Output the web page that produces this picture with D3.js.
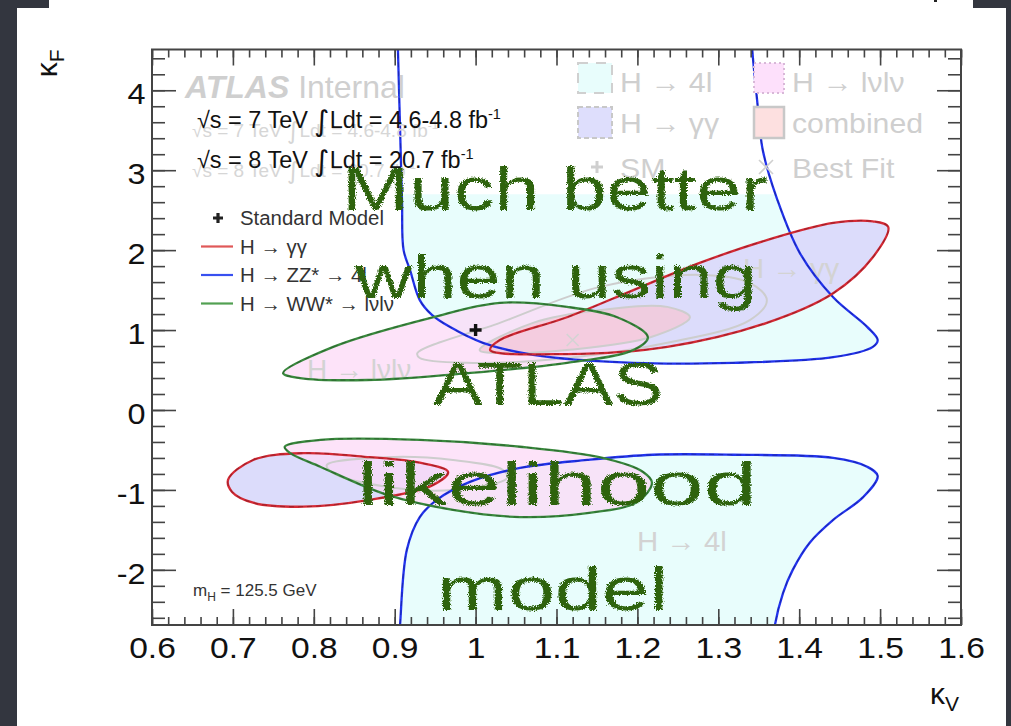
<!DOCTYPE html>
<html>
<head>
<meta charset="utf-8">
<script src="https://cdn.jsdelivr.net/npm/d3@7"></script>
<style>
  body { margin: 0; background: #33363f; }
  svg { display: block; }
  text { font-family: "Liberation Sans", Arial, Helvetica, sans-serif; }
</style>
</head>
<body>
<svg id="chart" width="1011" height="726"></svg>
<script>
// ---- values ----
var kvRange = [0.6, 1.6];
var kfRange = [-2.69, 4.51];
var kvTicks = [0.6, 0.7, 0.8, 0.9, 1.0, 1.1, 1.2, 1.3, 1.4, 1.5, 1.6];
var kvLabels = ["0.6", "0.7", "0.8", "0.9", "1", "1.1", "1.2", "1.3", "1.4", "1.5", "1.6"];
var kfTicks = [-2, -1, 0, 1, 2, 3, 4];
var kfLabels = ["-2", "-1", "0", "1", "2", "3", "4"];
var ghost4lTop = 2.7;
var smPoint = [1.0, 1.0];
var bestFit = [1.12, 0.875];

// H -> ZZ* -> 4l (blue), two open branches leaving the frame
var zzUpper = [[0.903, 4.8], [0.904, 4.51], [0.909, 2.63], [0.911, 2.0], [0.919, 1.75], [0.931, 1.375],
  [0.946, 1.19], [0.968, 1.04], [1.009, 0.84], [1.071, 0.69], [1.195, 0.59], [1.318, 0.59],
  [1.442, 0.66], [1.491, 0.79], [1.497, 0.875], [1.484, 1.04], [1.442, 1.41], [1.401, 1.96],
  [1.373, 2.63], [1.355, 3.25], [1.348, 3.875], [1.342, 4.51], [1.341, 4.8]];
var zzLower = [[0.905, -2.9], [0.9066, -2.69], [0.915, -1.75], [0.931, -1.34], [0.952, -1.125],
  [0.993, -0.9], [1.055, -0.725], [1.138, -0.625], [1.219, -0.56], [1.318, -0.56], [1.442, -0.6],
  [1.484, -0.71], [1.497, -0.825], [1.479, -1.09], [1.442, -1.375], [1.413, -1.66], [1.392, -2.0],
  [1.38, -2.29], [1.37, -2.69], [1.368, -2.9]];

// H -> gamma gamma (red)
var yyUpper = [[1.018, 0.75], [1.030, 0.875], [1.113, 1.16], [1.195, 1.5], [1.277, 1.84], [1.360, 2.125],
  [1.442, 2.34], [1.491, 2.36], [1.510, 2.29], [1.491, 1.91], [1.442, 1.46], [1.360, 1.09],
  [1.237, 0.79], [1.113, 0.70]];
var yyLower = [[0.694, -0.875], [0.725, -0.625], [0.787, -0.54], [0.869, -0.59], [0.931, -0.66],
  [0.966, -0.775], [0.947, -0.94], [0.869, -1.125], [0.787, -1.21], [0.725, -1.16], [0.699, -1.025]];

// H -> WW* -> lvlv (green)
var wwUpper = [[0.762, 0.46], [0.824, 0.79], [0.947, 1.16], [1.030, 1.34], [1.113, 1.29], [1.175, 1.16],
  [1.213, 0.91], [1.195, 0.75], [1.113, 0.59], [0.989, 0.46], [0.866, 0.375], [0.783, 0.40]];
var wwLower = [[0.764, -0.46], [0.808, -0.375], [0.931, -0.375], [1.055, -0.46], [1.157, -0.6],
  [1.207, -0.775], [1.218, -0.91], [1.200, -1.15], [1.138, -1.29], [1.055, -1.34], [0.972, -1.25],
  [0.890, -1.06], [0.808, -0.71], [0.771, -0.54]];

// combined (faded overlay)
var combOuterUp = [[0.928, 0.71], [1.030, 1.09], [1.154, 1.54], [1.277, 1.69], [1.339, 1.59], [1.360, 1.375],
  [1.339, 1.125], [1.237, 0.84], [1.113, 0.65], [0.989, 0.59], [0.931, 0.65]];
var combInnerUp = [[1.005, 0.75], [1.071, 1.09], [1.154, 1.25], [1.237, 1.29], [1.265, 1.16], [1.216, 0.91],
  [1.113, 0.75], [1.030, 0.71]];
var combOuterLo = [[0.816, -0.69], [0.890, -0.59], [0.972, -0.625], [1.034, -0.75], [1.039, -0.85],
  [0.972, -1.0], [0.890, -0.96], [0.824, -0.79]];

var legendLabels = ["Standard Model", "H \u2192 \u03b3\u03b3", "H \u2192 ZZ* \u2192 4l", "H \u2192 WW* \u2192 l\u03bdl\u03bd"];
var ghostLegend = ["H \u2192 4l", "H \u2192 l\u03bdl\u03bd", "H \u2192 \u03b3\u03b3", "combined", "SM", "Best Fit"];
var energies = ["7", "8"];
var lumis = ["4.6-4.8", "20.7"];
var massLabel = "125.5 GeV";
var noteLines = ["Much better", "when using", "ATLAS", "likelihood", "model"];

// ---- drawing ----
var svg = d3.select("#chart");
var W = 1011, H = 726;
var x = d3.scaleLinear().domain(kvRange).range([152, 961]);
var y = d3.scaleLinear().domain(kfRange).range([625, 49.5]);
var X0 = x.range()[0], X1 = x.range()[1], Y0 = y.range()[1], Y1 = y.range()[0];

var defs = svg.append("defs");
defs.append("clipPath").attr("id", "plotClip").append("rect")
  .attr("x", X0).attr("y", Y0).attr("width", X1 - X0).attr("height", Y1 - Y0);
defs.append("clipPath").attr("id", "ghostClip").append("rect")
  .attr("x", X0).attr("y", y(ghost4lTop)).attr("width", X1 - X0).attr("height", Y1 - y(ghost4lTop));
var rough = defs.append("filter").attr("id", "rough")
  .attr("x", "-5%").attr("y", "-20%").attr("width", "110%").attr("height", "140%");
rough.append("feTurbulence").attr("type", "fractalNoise").attr("baseFrequency", 0.9)
  .attr("numOctaves", 2).attr("seed", 3).attr("result", "noise");
rough.append("feDisplacementMap").attr("in", "SourceGraphic").attr("in2", "noise")
  .attr("scale", 5).attr("xChannelSelector", "R").attr("yChannelSelector", "G");

// slide: dark frame with the pasted white picture
svg.append("rect").attr("width", W).attr("height", H).attr("fill", "#33363f");
svg.append("rect").attr("x", 17).attr("y", 8).attr("width", 989).attr("height", H - 8).attr("fill", "#fff");
svg.append("rect").attr("x", 49).attr("y", 0).attr("width", 924).attr("height", 10).attr("fill", "#fff");
svg.append("rect").attr("x", 934).attr("y", 0).attr("width", 3).attr("height", 2).attr("fill", "#222");

var openLine = d3.line().x(function(d) { return x(d[0]); }).y(function(d) { return y(d[1]); })
  .curve(d3.curveCatmullRom.alpha(0.5));
var closedLine = d3.line().x(function(d) { return x(d[0]); }).y(function(d) { return y(d[1]); })
  .curve(d3.curveCatmullRomClosed.alpha(0.5));

var plot = svg.append("g").attr("clip-path", "url(#plotClip)");

// faded overlay fills
var ghost = plot.append("g").attr("clip-path", "url(#ghostClip)");
ghost.append("path").attr("d", openLine(zzUpper)).attr("fill", "#e8fdfc");
plot.append("path").attr("d", openLine(zzLower)).attr("fill", "#e8fdfc");
[yyUpper, yyLower].forEach(function(c) {
  plot.append("path").attr("d", closedLine(c)).attr("fill", "#dcdcfb");
});
[wwUpper, wwLower].forEach(function(c) {
  plot.append("path").attr("d", closedLine(c)).attr("fill", "#fcd8f6").attr("fill-opacity", 0.72);
});
plot.append("path").attr("d", closedLine(combInnerUp)).attr("fill", "#f4c8d8").attr("fill-opacity", 0.8);
[combOuterUp, combInnerUp, combOuterLo].forEach(function(c) {
  plot.append("path").attr("d", closedLine(c)).attr("fill", "none")
    .attr("stroke", "#cdcdcd").attr("stroke-width", 2);
});

// faded region labels
function rtext(parent, px, py, size, color, sx) {
  return parent.append("text")
    .attr("transform", "translate(" + px + "," + py + ") scale(" + (sx || 1) + ",1)")
    .attr("font-size", size).attr("fill", color);
}
rtext(plot, 743, 278, 28, "#d3d3d3", 1.05).text(ghostLegend[2]);
rtext(plot, 307, 379, 28, "#d3d3d3", 1.0).text(ghostLegend[1]);
rtext(plot, 637, 551, 28, "#d3d3d3", 1.05).text(ghostLegend[0]);

// best fit cross (faded) and SM point
function cross(parent, cx, cy, s, color, w) {
  parent.append("path").attr("d", "M" + (cx - s) + "," + (cy - s) + "L" + (cx + s) + "," + (cy + s) +
    "M" + (cx - s) + "," + (cy + s) + "L" + (cx + s) + "," + (cy - s))
    .attr("stroke", color).attr("stroke-width", w);
}
function plus(parent, cx, cy, s, color, w) {
  parent.append("path").attr("d", "M" + (cx - s) + "," + cy + "H" + (cx + s) + "M" + cx + "," + (cy - s) + "V" + (cy + s))
    .attr("stroke", color).attr("stroke-width", w);
}
cross(plot, x(bestFit[0]), y(bestFit[1]), 6, "#d3d3d3", 1.6);

// coloured contours
var lines = [
  { c: [zzUpper, zzLower], open: true, col: "#2233ee" },
  { c: [yyUpper, yyLower], open: false, col: "#d42a35" },
  { c: [wwUpper, wwLower], open: false, col: "#3a8a3e" }
];
lines.forEach(function(s) {
  s.c.forEach(function(c) {
    var d = s.open ? openLine(c) : closedLine(c);
    plot.append("path").attr("d", d).attr("fill", "none").attr("stroke", s.col).attr("stroke-width", 2.3);
    plot.append("path").attr("d", d).attr("fill", "none").attr("stroke", "rgba(0,0,0,0.22)")
      .attr("stroke-width", 1.2).attr("stroke-dasharray", "5,4");
  });
});
plus(plot, x(smPoint[0]), y(smPoint[1]), 6, "#111", 3.4);

// axes
var axCol = "#444";
function minors(dom, step) {
  var out = [];
  for (var v = Math.ceil(dom[0] / step) * step; v <= dom[1] + 1e-9; v += step) out.push(+v.toFixed(4));
  return out;
}
var kvMinor = minors(kvRange, 0.02);
var kfMinor = minors(kfRange, 0.2);

function styleAxis(g) {
  g.select(".domain").remove();
  g.selectAll("line").attr("stroke", axCol).attr("stroke-width", 1.6);
}
svg.append("g").attr("transform", "translate(0," + Y1 + ")")
  .call(d3.axisBottom(x).tickValues(kvMinor).tickFormat("").tickSizeInner(-8).tickSizeOuter(0)).call(styleAxis);
svg.append("g").attr("transform", "translate(0," + Y0 + ")")
  .call(d3.axisTop(x).tickValues(kvMinor).tickFormat("").tickSizeInner(-8).tickSizeOuter(0)).call(styleAxis);
svg.append("g").attr("transform", "translate(0," + Y0 + ")")
  .call(d3.axisTop(x).tickValues(kvTicks).tickFormat("").tickSizeInner(-16).tickSizeOuter(0)).call(styleAxis);
var xAx = svg.append("g").attr("transform", "translate(0," + Y1 + ")")
  .call(d3.axisBottom(x).tickValues(kvTicks).tickFormat(function(d, i) { return kvLabels[i]; })
    .tickSizeInner(-16).tickSizeOuter(0).tickPadding(12)).call(styleAxis);
xAx.selectAll("text").attr("font-size", 30).attr("fill", "#111")
  .attr("font-family", "Liberation Sans, Arial, sans-serif").attr("transform", "scale(1.12,1)");

svg.append("g").attr("transform", "translate(" + X0 + ",0)")
  .call(d3.axisLeft(y).tickValues(kfMinor).tickFormat("").tickSizeInner(-13).tickSizeOuter(0)).call(styleAxis);
svg.append("g").attr("transform", "translate(" + X1 + ",0)")
  .call(d3.axisRight(y).tickValues(kfMinor).tickFormat("").tickSizeInner(-13).tickSizeOuter(0)).call(styleAxis);
svg.append("g").attr("transform", "translate(" + X1 + ",0)")
  .call(d3.axisRight(y).tickValues(kfTicks).tickFormat("").tickSizeInner(-24).tickSizeOuter(0)).call(styleAxis);
var yAx = svg.append("g").attr("transform", "translate(" + X0 + ",0)")
  .call(d3.axisLeft(y).tickValues(kfTicks).tickFormat(function(d, i) { return kfLabels[i]; })
    .tickSizeInner(-24).tickSizeOuter(0).tickPadding(6)).call(styleAxis);
yAx.selectAll("text").attr("font-size", 30).attr("fill", "#111").attr("dy", "0.45em")
  .attr("font-family", "Liberation Sans, Arial, sans-serif").attr("transform", "scale(1.08,1)");

svg.append("rect").attr("x", X0).attr("y", Y0).attr("width", X1 - X0).attr("height", Y1 - Y0)
  .attr("fill", "none").attr("stroke", axCol).attr("stroke-width", 2);

// axis titles
var kf = svg.append("text").attr("transform", "translate(57," + Y0 + ") rotate(-90)")
  .attr("text-anchor", "end").attr("font-size", 30).attr("fill", "#111");
kf.append("tspan").text("\u03ba");
kf.append("tspan").attr("dy", 7).attr("font-size", 21).text("F");
var kv = svg.append("text").attr("transform", "translate(" + (X1 - 2) + ",704)")
  .attr("text-anchor", "end").attr("font-size", 30).attr("fill", "#111");
kv.append("tspan").text("\u03ba");
kv.append("tspan").attr("dy", 7).attr("font-size", 21).text("V");

// faded ATLAS labels
var atl = rtext(svg, 185, 98, 32, "#cfcfcf", 1.0);
atl.append("tspan").attr("font-weight", "bold").attr("font-style", "italic").text("ATLAS");
atl.append("tspan").text(" Internal");
function energyLine(px, py, size, color, sx, i) {
  var t = rtext(svg, px, py, size, color, sx);
  t.append("tspan").text("\u221as = " + energies[i] + " TeV  ");
  t.append("tspan").attr("font-family", "DejaVu Sans, sans-serif").attr("font-size", size * 1.25)
    .attr("dy", size * 0.12).text("\u222b");
  t.append("tspan").attr("dy", -size * 0.12).text("Ldt = " + lumis[i] + " fb");
  t.append("tspan").attr("dy", -size * 0.4).attr("font-size", size * 0.62).text("-1");
}
energyLine(192, 137, 19, "#d6d6d6", 1.0, 0);
energyLine(192, 177, 19, "#d6d6d6", 1.0, 1);
energyLine(197, 128, 23, "#111", 1.02, 0);
energyLine(197, 168, 23, "#111", 1.02, 1);

// faded legend (top right)
var gl = svg.append("g");
gl.append("rect").attr("x", 578).attr("y", 63).attr("width", 34).attr("height", 30)
  .attr("fill", "#e8fdfc").attr("stroke", "#d0d0d0").attr("stroke-width", 2).attr("stroke-dasharray", "10,8");
gl.append("rect").attr("x", 754).attr("y", 63).attr("width", 30).attr("height", 30)
  .attr("fill", "#fde0fb").attr("stroke", "#d8b8d8").attr("stroke-width", 2).attr("stroke-dasharray", "2,3");
gl.append("rect").attr("x", 578).attr("y", 107).attr("width", 34).attr("height", 31)
  .attr("fill", "#dedefc").attr("stroke", "#c8c8c8").attr("stroke-width", 2).attr("stroke-dasharray", "5,3");
gl.append("rect").attr("x", 754).attr("y", 107).attr("width", 30).attr("height", 31)
  .attr("fill", "#fde0e0").attr("stroke", "#c8c8c8").attr("stroke-width", 2.5);
rtext(gl, 620, 92, 28, "#cfcfcf", 1.08).text(ghostLegend[0]);
rtext(gl, 792, 92, 28, "#cfcfcf", 1.08).text(ghostLegend[1]);
rtext(gl, 620, 133, 28, "#cfcfcf", 1.08).text(ghostLegend[2]);
rtext(gl, 792, 133, 28, "#cfcfcf", 1.08).text(ghostLegend[3]);
plus(gl, 597, 167, 6, "#cfcfcf", 3);
rtext(gl, 620, 178, 28, "#cfcfcf", 1.08).text(ghostLegend[4]);
cross(gl, 766, 167, 7, "#cfcfcf", 1.6);
rtext(gl, 792, 178, 28, "#cfcfcf", 1.08).text(ghostLegend[5]);

// black legend (top left)
var lg = svg.append("g");
var legCols = [null, "#e05858", "#3850f0", "#52a052"];
legendLabels.forEach(function(lbl, i) {
  var ly = 218 + i * 28.5;
  if (i === 0) plus(lg, 218, ly, 5, "#222", 3.2);
  else lg.append("line").attr("x1", 201).attr("x2", 233).attr("y1", ly).attr("y2", ly)
    .attr("stroke", legCols[i]).attr("stroke-width", 2.2);
  rtext(lg, 240, ly + 7, 20, "#333", 1.02).text(lbl);
});

// mass label
var ml = rtext(svg, 193, 596, 17, "#333", 1.0);
ml.append("tspan").text("m");
ml.append("tspan").attr("dy", 5).attr("font-size", 12).text("H");
ml.append("tspan").attr("dy", -5).text(" = " + massLabel);

// hand-written note on top
var notePos = [[342, 210, 426], [355, 298, 402], [433, 405, 230], [357, 505, 400], [437, 610, 231]];
var note = svg.append("g").attr("filter", "url(#rough)");
noteLines.forEach(function(t, i) {
  note.append("text").attr("x", notePos[i][0]).attr("y", notePos[i][1])
    .attr("textLength", notePos[i][2]).attr("lengthAdjust", "spacingAndGlyphs")
    .attr("font-family", "Noto Sans, Lato, DejaVu Sans, sans-serif").attr("font-size", 62)
    .attr("font-weight", 300).attr("fill", "#2d6410").text(t);
});
</script>
</body>
</html>
